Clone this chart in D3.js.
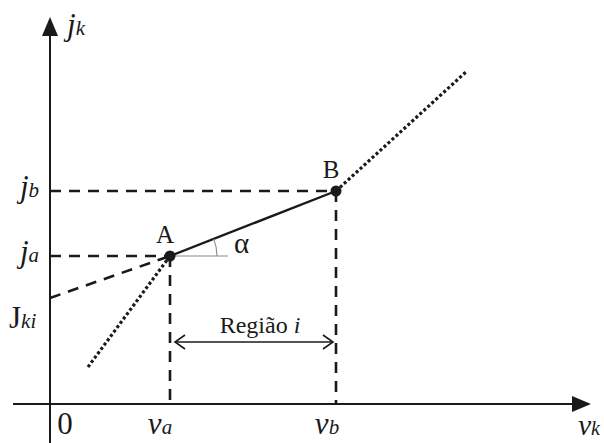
<!DOCTYPE html>
<html>
<head>
<meta charset="utf-8">
<script src="https://cdn.jsdelivr.net/npm/d3@7"></script>
<style>
  html, body { margin: 0; padding: 0; background: #fff; }
  svg { display: block; }
  text { font-family: "Liberation Serif", "Times New Roman", Tinos, serif; fill: #1a1a1a; }
</style>
</head>
<body>
<svg id="chart" width="604" height="443"></svg>
<script>
// Characteristic points (abstract units on v_k and j_k axes)
const pointNames = ["A", "B"];
const pointV = [6.0, 14.3];      // v_a, v_b
const pointJ = [7.4, 10.65];     // j_a, j_b
const interceptJ = 5.3;          // J_ki, intercept of the segment A–B
// Dotted continuations below A and beyond B
const lowerDottedEnd = [1.9, 1.85];
const upperDottedEnd = [20.85, 16.65];
// Height of the "Região i" span arrow
const regionArrowJ = 3.1;
// Axis extents
const vAxisRange = [-1.85, 27.05];
const jAxisRange = [-1.95, 19.35];
// Axis labels
const xTickLabels = [{ main: "0", sub: "" }, { main: "v", sub: "a" }, { main: "v", sub: "b" }];
const yTickLabels = [{ main: "j", sub: "b" }, { main: "j", sub: "a" }, { main: "J", sub: "ki" }];

const svg = d3.select("#chart");
const ink = "#1a1a1a";

const x = d3.scaleLinear().domain([0, 27]).range([50, 590]);
const y = d3.scaleLinear().domain([0, 19.35]).range([404, 17]);
const line = d3.line().x(d => x(d[0])).y(d => y(d[1]));

const A = [pointV[0], pointJ[0]];
const B = [pointV[1], pointJ[1]];

// Axes with filled arrowheads
svg.append("path").attr("d", line([[vAxisRange[0], 0], [vAxisRange[1] - 0.8, 0]]))
  .attr("stroke", ink).attr("stroke-width", 2).attr("fill", "none");
svg.append("path").attr("d", line([[0, jAxisRange[0]], [0, jAxisRange[1] - 0.8]]))
  .attr("stroke", ink).attr("stroke-width", 2).attr("fill", "none");
{
  const tx = x(vAxisRange[1]), ty = y(0);
  svg.append("path").attr("d", `M${tx},${ty} L${tx - 19},${ty - 8} L${tx - 19},${ty + 8} Z`).attr("fill", ink);
  const ux = x(0), uy = y(jAxisRange[1]);
  svg.append("path").attr("d", `M${ux},${uy} L${ux - 8},${uy + 19} L${ux + 8},${uy + 19} Z`).attr("fill", ink);
}

// Dashed projection lines
const dashed = (pts) => svg.append("path").attr("d", line(pts))
  .attr("stroke", ink).attr("stroke-width", 2.6).attr("fill", "none")
  .attr("stroke-dasharray", "11,8");
dashed([[0, pointJ[1]], B]);
dashed([[0, pointJ[0]], A]);
dashed([[0, interceptJ], A]);
dashed([A, [pointV[0], 0]]);
dashed([B, [pointV[1], 0]]);

// Dotted continuations
const dotted = (pts) => svg.append("path").attr("d", line(pts))
  .attr("stroke", ink).attr("stroke-width", 3.2).attr("fill", "none")
  .attr("stroke-dasharray", "3,2.4");
dotted([lowerDottedEnd, A]);
dotted([B, upperDottedEnd]);

// Segment A–B
svg.append("path").attr("d", line([A, B]))
  .attr("stroke", ink).attr("stroke-width", 2.4).attr("fill", "none");

// Angle α reference line and arc
svg.append("path").attr("d", line([A, [A[0] + 2.9, A[1]]]))
  .attr("stroke", "#8a8a8a").attr("stroke-width", 1.1).attr("fill", "none");
{
  const ax = x(A[0]), ay = y(A[1]);
  const ang = Math.atan2(y(B[1]) - ay, x(B[0]) - ax);
  const r = 47;
  svg.append("path")
    .attr("d", `M${ax + r},${ay} A${r},${r} 0 0 0 ${ax + r * Math.cos(ang)},${ay + r * Math.sin(ang)}`)
    .attr("stroke", "#8a8a8a").attr("stroke-width", 1.1).attr("fill", "none");
  svg.append("text").attr("x", ax + 64).attr("y", ay - 3)
    .attr("font-size", 29).text("α");
}

// Points
svg.selectAll("circle.pt").data([A, B]).join("circle")
  .attr("cx", d => x(d[0])).attr("cy", d => y(d[1])).attr("r", 5.5).attr("fill", ink);
svg.selectAll("text.pt").data(pointNames).join("text")
  .attr("x", (d, i) => x(pointV[i]) - 5).attr("y", (d, i) => y(pointJ[i]) - 13)
  .attr("text-anchor", "middle").attr("font-size", 25).text(d => d);

// Region span arrow
{
  const y0 = y(regionArrowJ);
  const x0 = x(pointV[0]) + 5, x1 = x(pointV[1]) - 3;
  svg.append("path").attr("d", line([[pointV[0], regionArrowJ], [pointV[1], regionArrowJ]].map((p, i) => [x.invert(i ? x1 : x0), p[1]])))
    .attr("stroke", ink).attr("stroke-width", 1.6).attr("fill", "none");
  svg.append("path").attr("d", `M${x0 + 10},${y0 - 7} L${x0},${y0} L${x0 + 10},${y0 + 7}`)
    .attr("stroke", ink).attr("stroke-width", 1.6).attr("fill", "none");
  svg.append("path").attr("d", `M${x1 - 10},${y0 - 7} L${x1},${y0} L${x1 - 10},${y0 + 7}`)
    .attr("stroke", ink).attr("stroke-width", 1.6).attr("fill", "none");
  const t = svg.append("text").attr("x", (x0 + x1) / 2 + 6).attr("y", y0 - 9)
    .attr("text-anchor", "middle").attr("font-size", 24);
  t.append("tspan").text("Região ");
  t.append("tspan").attr("font-style", "italic").text("i");
}

// Labels with subscripts
function label(main, sub, px, py, anchor, italicMain, size) {
  const s = size || 31;
  const t = svg.append("text").attr("x", px).attr("y", py).attr("text-anchor", anchor).attr("font-size", s);
  t.append("tspan").attr("font-style", italicMain ? "italic" : "normal").text(main);
  if (sub) t.append("tspan").attr("font-style", "italic").attr("font-size", Math.round(s * 0.68)).text(sub);
  return t;
}

// v-axis labels
label(xTickLabels[0].main, "", x(0) + 15, y(0) + 30, "middle", false);
label(xTickLabels[1].main, xTickLabels[1].sub, x(pointV[0]) - 10, y(0) + 30, "middle", true);
label(xTickLabels[2].main, xTickLabels[2].sub, x(pointV[1]) - 9, y(0) + 30, "middle", true);
label("v", "k", 600, y(0) + 31, "end", true, 29);

// j-axis labels
label(yTickLabels[0].main, yTickLabels[0].sub, 39, y(pointJ[1]) + 6, "end", true);
label(yTickLabels[1].main, yTickLabels[1].sub, 39, y(pointJ[0]) + 6, "end", true);
label(yTickLabels[2].main, yTickLabels[2].sub, 9, y(interceptJ) + 30, "start", false);
label("j", "k", 67, 35, "start", true);
</script>
</body>
</html>
